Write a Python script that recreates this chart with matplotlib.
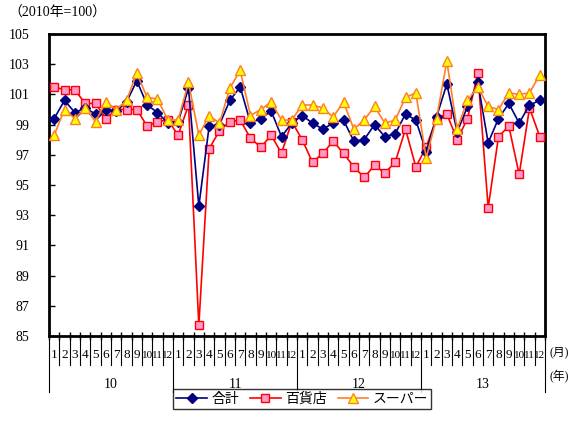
import matplotlib
matplotlib.use("Agg")
import matplotlib.pyplot as plt
from matplotlib.lines import Line2D
import numpy as np

plt.rcParams['font.family'] = ['Liberation Serif', 'Noto Sans CJK JP']

years = ['10', '11', '12', '13']
months = [str(m) for m in range(1, 13)]

total = [99.4, 100.6, 99.8, 100.1, 99.7, 100.0, 99.9, 100.5, 101.9, 100.3, 99.8, 99.1,
         99.2, 101.4, 93.6, 98.9, 99.0, 100.6, 101.5, 99.1, 99.4, 99.9, 98.2, 99.1,
         99.6, 99.1, 98.7, 99.1, 99.3, 97.9, 98.0, 99.0, 98.2, 98.4, 99.7, 99.3,
         97.2, 99.5, 101.7, 98.5, 100.2, 101.8, 97.8, 99.4, 100.4, 99.1, 100.3, 100.6]

dept = [101.5, 101.3, 101.3, 100.4, 100.4, 99.4, 100.0, 100.0, 100.0, 98.9, 99.2, 99.3,
        98.3, 100.3, 85.7, 97.4, 98.6, 99.2, 99.3, 98.1, 97.5, 98.3, 97.1, 99.2,
        98.0, 96.5, 97.1, 97.9, 97.1, 96.2, 95.5, 96.3, 95.8, 96.5, 98.7, 96.2,
        97.5, 99.4, 99.7, 98.0, 99.4, 102.4, 93.5, 98.2, 98.9, 95.7, 100.1, 98.2]

superm = [98.3, 100.0, 99.4, 100.1, 99.2, 100.5, 100.0, 100.6, 102.4, 100.8, 100.7, 99.3,
          99.3, 101.8, 98.3, 99.6, 99.1, 101.4, 102.6, 99.6, 100.0, 100.5, 99.3, 99.3,
          100.3, 100.3, 100.1, 99.5, 100.5, 98.7, 99.3, 100.2, 99.1, 99.3, 100.8, 101.1,
          96.8, 99.4, 103.2, 98.7, 100.6, 101.5, 100.2, 100.0, 101.1, 101.0, 101.1, 102.3]

series_names = ['合計', '百貨店', 'スーパー']

W, H = 573, 423
fig = plt.figure(figsize=(W / 100, H / 100), dpi=100)
L, R, T, B = 49, 545, 34, 336
ax = fig.add_axes([L / W, 1 - B / H, (R - L) / W, (B - T) / H])

x = np.arange(len(total))
ax.plot(x, total, color='#000080', lw=1.2, marker='D', ms=5,
        mfc='#000080', mec='#000080', label=series_names[0], zorder=4)
ax.plot(x, dept, color='#FF0000', lw=1.2, marker='s', ms=6,
        mfc='#FF99CC', mec='#FF0000', mew=1.0, label=series_names[1], zorder=3)
ax.plot(x, superm, color='#FF7F27', lw=1.2, marker='^', ms=7,
        mfc='#FFFF00', mec='#FF7F27', mew=1.0, label=series_names[2], zorder=5)

ax.set_xlim(-0.5, len(total) - 0.5)
ax.set_ylim(85, 105)
ax.set_yticks(np.arange(85, 106, 2))
ax.tick_params(axis='y', direction='in', length=4, width=1, pad=14, labelsize=10)
ax.set_xticks(np.arange(-0.5, len(total), 1))
ax.set_xticklabels([])
ax.tick_params(axis='x', direction='inout', length=6, width=1)
for s in ax.spines.values():
    s.set_linewidth(2)

tr = ax.get_xaxis_transform()
ph = B - T
y_month = -(355 - B) / ph
y_sep = -(365 - B) / ph
y_year_sep = -(392 - B) / ph
y_year = -(384 - B) / ph

for yi, yr in enumerate(years):
    for mi, m in enumerate(months):
        i = yi * 12 + mi
        fs = 9.5 if len(m) == 1 else 8
        ax.text(i, y_month, m, transform=tr, ha='center', va='center', fontsize=fs)
        if mi > 0:
            ax.add_line(Line2D([i - 0.5, i - 0.5], [0, y_sep], transform=tr,
                               color='black', lw=0.8, clip_on=False))
    ax.text(yi * 12 + 5.5, y_year, yr, transform=tr, ha='center', va='center', fontsize=10)

for b in range(len(years) + 1):
    xb = b * 12 - 0.5
    ax.add_line(Line2D([xb, xb], [0, y_year_sep], transform=tr,
                       color='black', lw=0.8, clip_on=False))

# unit labels to the right of the category axis
fig.text(549 / W, 1 - 352 / H, '(月)', ha='left', va='center', fontsize=8.5)
fig.text(549 / W, 1 - 377 / H, '(年)', ha='left', va='center', fontsize=8.5)
fig.text(8 / W, 1 - 13 / H, '（2010年=100）', ha='left', va='center', fontsize=10)

leg = fig.legend(loc='upper left', bbox_to_anchor=(173 / W, 1 - 389 / H), ncol=3,
                 frameon=True, fancybox=False, edgecolor='black', fontsize=10,
                 handlelength=2.2, columnspacing=0.8, handletextpad=0.3,
                 borderpad=0.25, borderaxespad=0)
leg.get_frame().set_linewidth(1.0)

fig.savefig('out.png', dpi=100)
